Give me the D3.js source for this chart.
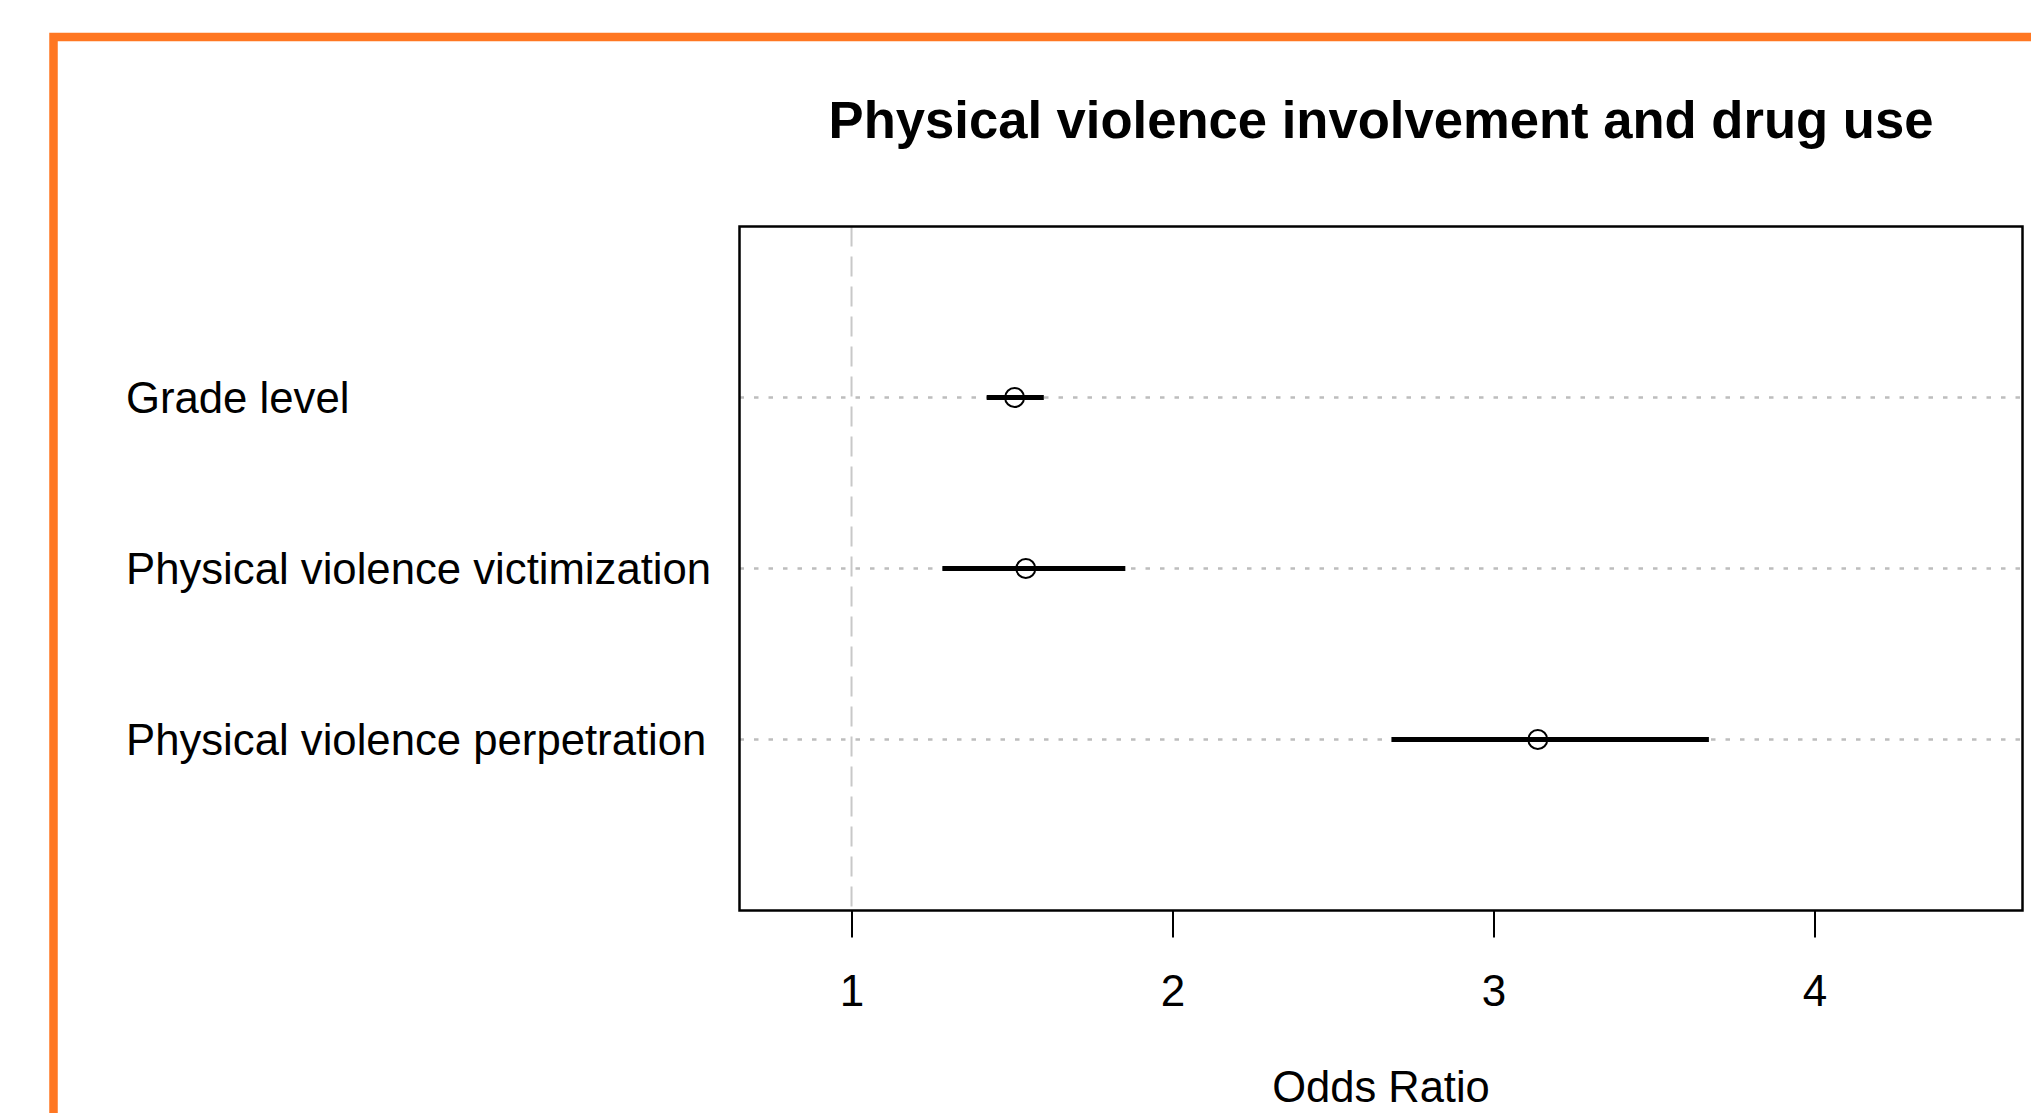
<!DOCTYPE html>
<html>
<head>
<meta charset="utf-8">
<title>Physical violence involvement and drug use</title>
<script src="https://cdn.jsdelivr.net/npm/d3@7"></script>
<style>
    body { margin: 0; background: #ffffff; overflow: hidden; }
    svg { display: block; }
</style>
</head>
<body>
<svg id="forest_plot"></svg>
<script>
// Odds ratios with 95% CI
const predictors = ["Grade level", "Physical violence victimization", "Physical violence perpetration"]
const oddsRatios = [1.508, 1.543, 3.138]
const lowerCI = [1.421, 1.283, 2.682]
const upperCI = [1.599, 1.853, 3.671]
const xTicks = [1, 2, 3, 4]

const TITLE = "Physical violence involvement and drug use"
const X_LABEL = "Odds Ratio"

function setup_ForestPlot() {
    const WIDTH = 2031, HEIGHT = 1113
    const box = { left: 739.5, right: 2022.5, top: 226.5, bottom: 910.5 }
    const FONT = "'Liberation Sans', Arial, Helvetica, sans-serif"
    const ORANGE = "#ff7722"

    const svg = d3.select("#forest_plot")
        .attr("width", WIDTH)
        .attr("height", HEIGHT)

    // orange frame, runs off the right and bottom edges
    svg.append("rect")
        .attr("x", 53.5)
        .attr("y", 37)
        .attr("width", WIDTH + 100)
        .attr("height", HEIGHT + 100)
        .attr("fill", "none")
        .attr("stroke", ORANGE)
        .attr("stroke-width", 8.5)

    const xRange = d3.scaleLinear()
        .domain([0.651, 4.648])
        .range([box.left, box.right])

    const yRange = d3.scaleLinear()
        .domain([0, predictors.length + 1])
        .range([box.top, box.bottom])

    const rows = predictors.map((name, i) => ({
        name: name, or: oddsRatios[i], lo: lowerCI[i], hi: upperCI[i], pos: i + 1
    }))

    // reference line at OR = 1
    svg.append("line")
        .attr("x1", xRange(1))
        .attr("x2", xRange(1))
        .attr("y1", box.top)
        .attr("y2", box.bottom)
        .attr("stroke", "#c8c8c8")
        .attr("stroke-width", 2)
        .attr("stroke-dasharray", "20 10")

    // dotted guide lines for each row
    svg.selectAll(".guide")
        .data(rows)
        .enter()
        .append("line")
        .attr("class", "guide")
        .attr("x1", box.left)
        .attr("x2", box.right)
        .attr("y1", d => yRange(d.pos))
        .attr("y2", d => yRange(d.pos))
        .attr("stroke", "#bdbdbd")
        .attr("stroke-width", 2.5)
        .attr("stroke-dasharray", "4.5 10")

    // confidence intervals
    svg.selectAll(".ci")
        .data(rows)
        .enter()
        .append("line")
        .attr("class", "ci")
        .attr("x1", d => xRange(d.lo))
        .attr("x2", d => xRange(d.hi))
        .attr("y1", d => yRange(d.pos))
        .attr("y2", d => yRange(d.pos))
        .attr("stroke", "#000")
        .attr("stroke-width", 5)

    // point estimates
    svg.selectAll(".estimate")
        .data(rows)
        .enter()
        .append("circle")
        .attr("class", "estimate")
        .attr("cx", d => xRange(d.or))
        .attr("cy", d => yRange(d.pos))
        .attr("r", 9.5)
        .attr("fill", "none")
        .attr("stroke", "#000")
        .attr("stroke-width", 2)

    // plot box
    svg.append("rect")
        .attr("x", box.left)
        .attr("y", box.top)
        .attr("width", box.right - box.left)
        .attr("height", box.bottom - box.top)
        .attr("fill", "none")
        .attr("stroke", "#000")
        .attr("stroke-width", 2.5)

    // x axis
    const xAxis = svg.append("g")
        .attr("transform", "translate(0," + box.bottom + ")")
        .call(d3.axisBottom(xRange)
            .tickValues(xTicks)
            .tickFormat(d3.format("d"))
            .tickSize(27)
            .tickPadding(37))
    xAxis.select(".domain").remove()
    xAxis.selectAll(".tick line")
        .attr("stroke", "#000")
        .attr("stroke-width", 2)
    xAxis.selectAll("text")
        .attr("font-family", FONT)
        .attr("font-size", "44px")
        .attr("fill", "#000")

    // row labels
    svg.selectAll(".row_label")
        .data(rows)
        .enter()
        .append("text")
        .attr("class", "row_label")
        .attr("x", 126)
        .attr("y", d => yRange(d.pos) + 15.5)
        .attr("font-family", FONT)
        .attr("font-size", "43.7px")
        .attr("fill", "#000")
        .text(d => d.name)

    svg.append("text")
        .attr("x", (box.left + box.right) / 2)
        .attr("y", 138)
        .attr("text-anchor", "middle")
        .attr("font-family", FONT)
        .attr("font-weight", "700")
        .attr("font-size", "52.6px")
        .attr("fill", "#000")
        .text(TITLE)

    svg.append("text")
        .attr("x", (box.left + box.right) / 2)
        .attr("y", 1102)
        .attr("text-anchor", "middle")
        .attr("font-family", FONT)
        .attr("font-size", "43.5px")
        .attr("fill", "#000")
        .text(X_LABEL)
}

setup_ForestPlot()
</script>
</body>
</html>
